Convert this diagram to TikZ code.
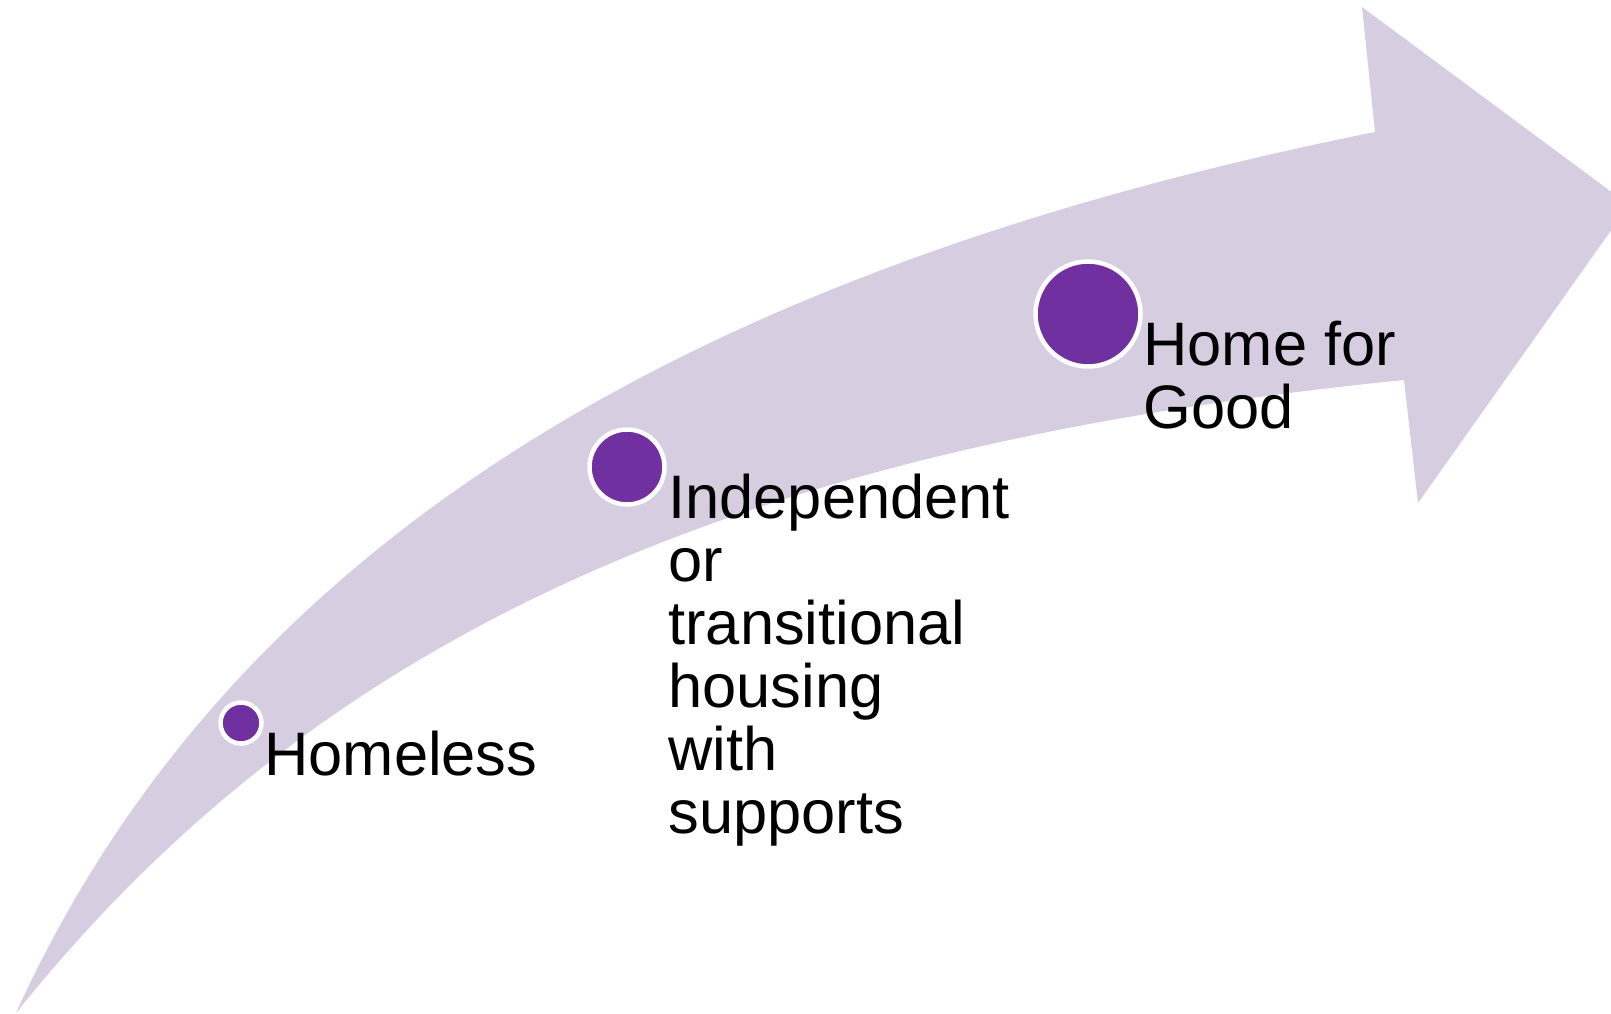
\documentclass[tikz,border=0pt]{standalone}
\usepackage{fontspec}
\setmainfont{Liberation Sans}
\usepackage{tikz}
\definecolor{bandcol}{HTML}{D6CDE1}
\definecolor{dotcol}{HTML}{7030A0}

\begin{document}
\begin{tikzpicture}[x=0.5pt,y=-0.5pt,
		stagedot/.style={circle,fill=dotcol,draw=white,line width=2.25pt,inner sep=0pt},
		stagetext/.style={anchor=base west,inner sep=0pt,align=left,font=\fontsize{30.7pt}{31.5pt}\selectfont}]
		% 枠の範囲
		\clip (0,0) rectangle (1611,1013);
		% 点の定義
		\coordinate (tail) at (16,1013);
		\coordinate (neck_top) at (1375,132);
		\coordinate (head_top) at (1362,7);
		\coordinate (head_tip) at (1629,205);
		\coordinate (head_bottom) at (1418,503);
		\coordinate (neck_bottom) at (1404,380);
		% 矢印の描画
		\fill[bandcol] (tail) .. controls (214,578) and (637,280) .. (neck_top)
			-- (head_top) -- (head_tip) -- (head_bottom) -- (neck_bottom)
			.. controls (733,447) and (317,637) .. (tail) -- cycle;
		% 点の描画
		\node[stagedot,minimum size=20.5pt] (homeless_dot) at (241,723) {};
		\node[stagedot,minimum size=37.5pt] (independent_dot) at (627,467) {};
		\node[stagedot,minimum size=52.5pt] (home_dot) at (1088,314) {};
		% 文字の描画 (複数行は最終行のベースラインで配置)
		\node[stagetext] (homeless_text) at (264,775) {Homeless};
		\node[stagetext] (independent_text) at (668,833) {Independent\\or\\transitional\\housing\\with\\supports};
		\node[stagetext] (home_text) at (1143,428) {Home for\\Good};
	\end{tikzpicture}
\end{document}
